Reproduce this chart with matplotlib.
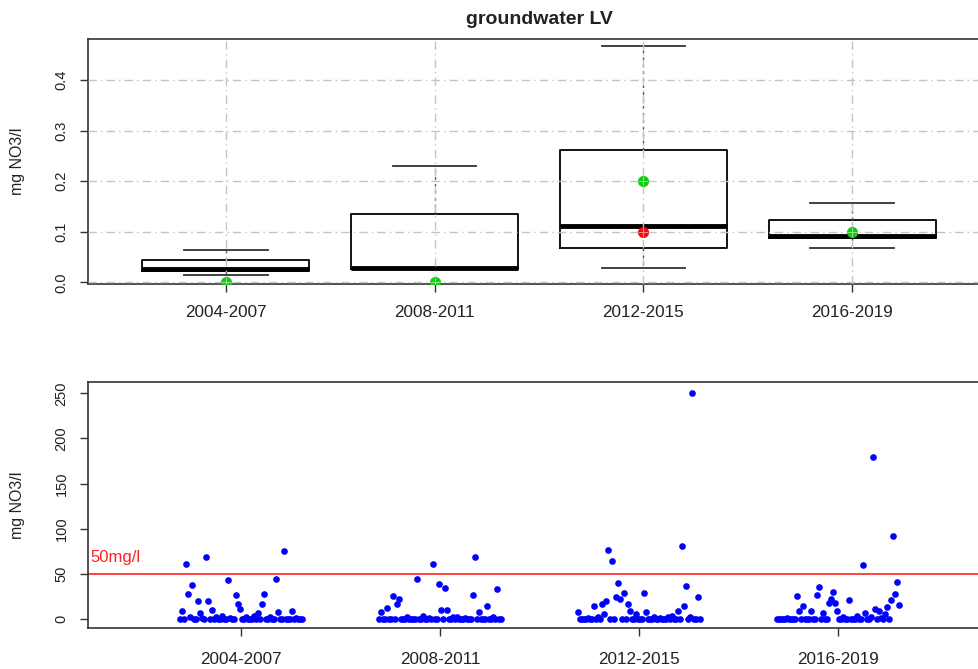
"""Groundwater LV nitrate: box summary per period (top) and single readings (bottom)."""
import matplotlib
matplotlib.use("Agg")
import matplotlib.pyplot as plt
import numpy as np

plt.rcParams["font.family"] = ["Liberation Sans", "DejaVu Sans"]

PERIODS = ["2004-2007", "2008-2011", "2012-2015", "2016-2019"]

# box summary, mg NO3/l
WHIS_LO = [0.014, 0.026, 0.028, 0.069]
Q1 = [0.023, 0.026, 0.069, 0.088]
MEDIAN = [0.026, 0.029, 0.111, 0.091]
Q3 = [0.045, 0.136, 0.261, 0.124]
WHIS_HI = [0.064, 0.231, 0.467, 0.157]
GREEN_MARK = [0.0, 0.0, 0.2, 0.1]
RED_MARK = [np.nan, np.nan, 0.1, np.nan]

# single readings per period in sample order, mg NO3/l
READ_0407 = [0, 8.5, 0, 61, 27.9, 2, 37.1, 0, 0, 20.2,
             6.6, 1, 0, 68.4, 20.2, 0, 9.6, 0, 2, 0,
             0, 3, 0, 0, 42.6, 1, 0, 0, 26.1, 16.9,
             11, 0, 0, 2, 0, 0, 0, 3, 0, 6.6,
             0, 16.9, 27.9, 0, 0, 2, 0, 0, 44.5, 7.4,
             0, 0, 75.7, 0, 0, 0, 8.5, 0, 1, 0,
             0, 0]
READ_0811 = [0, 7.7, 0, 0, 12.1, 0, 0, 25.7, 0, 16.5,
             22, 0, 0, 0, 2, 0, 0, 0, 0, 43.8,
             0, 0, 3, 0, 0, 1, 0, 60.7, 0, 0,
             38.2, 9.6, 0, 34.6, 10.3, 0, 0, 2, 0, 2.6,
             0, 0, 0, 1, 0, 0, 0, 27, 68.4, 0,
             7.4, 0, 0, 0, 14.8, 0, 0, 2.6, 0, 33.3,
             0, 0]
READ_1215 = [7.4, 0, 0, 0, 0, 1, 0, 0, 14.8, 0,
             2, 0, 16.7, 5.6, 19.6, 75.9, 0, 63.7, 0, 24.8,
             39.6, 21.5, 0, 28.5, 0, 16.7, 8.5, 0, 0, 5.9,
             0, 0, 0, 28.5, 7.4, 0, 0, 0, 2, 0,
             0, 1, 0, 0, 0, 2, 0, 3, 0, 0,
             8.5, 0, 80.4, 14.8, 35.9, 0, 2, 250.4, 0, 0,
             23.9, 0]
READ_1619 = [0, 0, 0, 0, 0, 1, 0, 0, 0, 0,
             25, 8.5, 0, 14.7, 0, 0, 0, 8.5, 0, 0,
             26.8, 35.3, 0, 6.6, 0, 0, 17.6, 22, 29.4, 17.6,
             8.5, 0, 0, 2, 0, 0, 20.6, 0, 0, 0,
             3, 0, 0, 59.5, 6.4, 0, 0, 2, 179, 11,
             0, 9, 1, 0, 5.3, 12.9, 0, 20.5, 92.4, 28,
             40.5, 15.9]
READINGS = [READ_0407, READ_0811, READ_1215, READ_1619]
LIMIT = 50

TXT = "#222222"
GRID = "#c4c4c4"
FRAME = "#333333"

fig = plt.figure(figsize=(9.79, 6.69), dpi=100)
W, H = 979, 669


def place(left, top, right, bottom):
    return [left / W, 1 - bottom / H, (right - left) / W, (bottom - top) / H]


def style(ax, xpad):
    for sp in ax.spines.values():
        sp.set_color(FRAME)
        sp.set_linewidth(1.2)
    ax.tick_params(direction="out", length=6, width=1, color=FRAME, labelcolor=TXT)
    ax.tick_params(axis="x", labelsize=12.3, pad=xpad)
    ax.tick_params(axis="y", labelsize=10.5, pad=8, labelrotation=90)
    for lab in ax.get_yticklabels():
        lab.set_va("center")
    ax.set_ylabel("mg NO3/l", fontsize=11.5, color=TXT)
    ax.yaxis.label.set_va("center")
    ax.yaxis.set_label_coords(-0.078, 0.5)


# ---- top: boxes ----
ax1 = fig.add_axes(place(88, 39, 990, 284))
pos = np.arange(1, len(PERIODS) + 1)
stats = [
    {"whislo": lo, "q1": a, "med": m, "q3": b, "whishi": hi, "fliers": []}
    for lo, a, m, b, hi in zip(WHIS_LO, Q1, MEDIAN, Q3, WHIS_HI)
]
ax1.bxp(
    stats, positions=pos, widths=0.8, capwidths=0.4, showfliers=False,
    boxprops=dict(color="black", linewidth=1.3),
    medianprops=dict(color="black", linewidth=3.5, solid_capstyle="butt"),
    whiskerprops=dict(color="#555555", linewidth=1, linestyle=(0, (2, 3))),
    capprops=dict(color="#333333", linewidth=1.3),
    manage_ticks=False,
)
for v in np.arange(0, 0.41, 0.1):
    ax1.axhline(v, color=GRID, linewidth=1, linestyle=(0, (6, 3, 1, 3)), zorder=3)
for p in pos:
    ax1.axvline(p, color=GRID, linewidth=1, linestyle=(0, (6, 3, 1, 3)), zorder=3)
ax1.plot(pos, RED_MARK, "o", color="#ee1111", markersize=7, zorder=5)
ax1.plot(pos, GREEN_MARK, "o", color="#11cc11", markersize=7, zorder=6)
ax1.plot(pos, RED_MARK, "+", color="white", markersize=7, mew=0.6, alpha=0.6, zorder=7)
ax1.plot(pos, GREEN_MARK, "+", color="white", markersize=7, mew=0.6, alpha=0.6, zorder=7)
ax1.set_xlim(0.34, 4.66)
ax1.set_ylim(-0.003, 0.481)
ax1.set_xticks(pos, PERIODS)
ax1.set_yticks([0, 0.1, 0.2, 0.3, 0.4], ["0.0", "0.1", "0.2", "0.3", "0.4"])
style(ax1, 9)
ax1.set_title("groundwater LV", fontsize=14, fontweight="bold", color=TXT, pad=11)

# ---- bottom: single readings ----
ax2 = fig.add_axes(place(88, 382, 990, 628))
for k, vals in enumerate(READINGS):
    xs = k + 1 + np.linspace(-0.307, 0.307, len(vals))
    ax2.plot(xs, vals, "o", color="#0000ff", markersize=4.8, markeredgewidth=0, zorder=3)
ax2.axhline(LIMIT, color="#ff2222", linewidth=1.2, zorder=2)
ax2.text(0.003, LIMIT + 18, "50mg/l", color="#ff2222", fontsize=12, va="center",
         ha="left", transform=ax2.get_yaxis_transform())
ax2.set_xlim(0.231, 4.764)
ax2.set_ylim(-10.1, 262.5)
ax2.set_xticks(pos, PERIODS)
ax2.set_yticks([0, 50, 100, 150, 200, 250])
style(ax2, 11)

fig.savefig("out.png", dpi=100)
